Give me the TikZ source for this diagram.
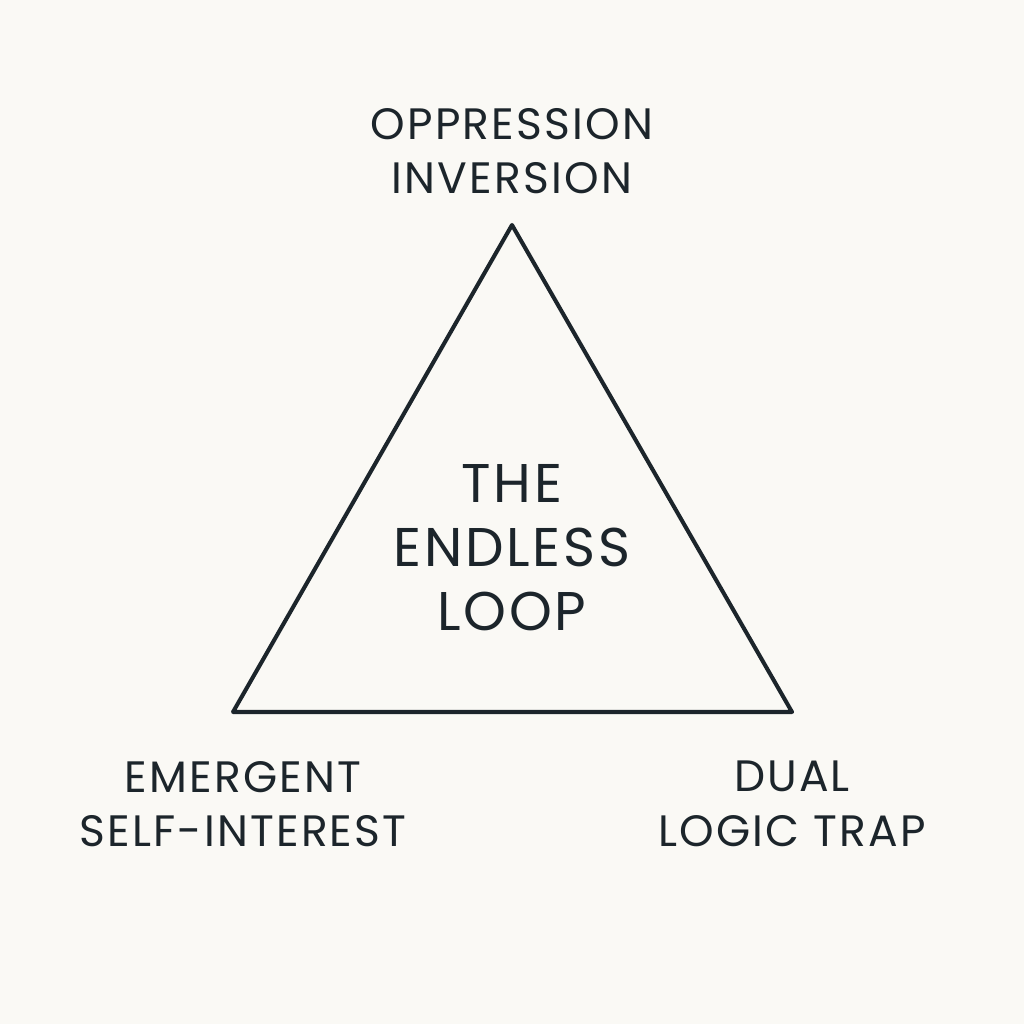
\documentclass[tikz,border=0pt]{standalone}
\usepackage{fontspec}
\setmainfont{Poppins}[LetterSpace=5]
\usetikzlibrary{positioning}
\definecolor{fondo}{RGB}{250,249,245}
\definecolor{tinta}{RGB}{28,37,43}

\begin{document}
\begin{tikzpicture}[x=0.01cm,y=-0.01cm,
  etiqueta/.style={text=tinta, align=center, font=\fontsize{12.5}{15.5}\selectfont, inner sep=0pt},
  centro/.style={text=tinta, align=center, font=\fontsize{15.5}{18.2}\selectfont, inner sep=0pt},
  lado/.style={draw=tinta, line width=1.15pt, line join=round, line cap=round}]

\fill[fondo] (0,0) rectangle (1024,1024);
\useasboundingbox (0,0) rectangle (1024,1024);

% vertices del triangulo
\coordinate (arriba) at (512,225);
\coordinate (izq) at (233,712);
\coordinate (der) at (792,712);

\draw[lado] (arriba) -- (izq) -- (der) -- cycle;

\node[centro] (bucle) at (512,548) {THE\\ENDLESS\\LOOP};

\node[etiqueta] (opresion) at (512,151) {OPPRESSION\\INVERSION};
\node[etiqueta] (egoismo) at (243,804) {EMERGENT\\SELF-INTEREST};
\node[etiqueta] (trampa) at (792,804) {DUAL\\LOGIC TRAP};

\end{tikzpicture}
\end{document}
